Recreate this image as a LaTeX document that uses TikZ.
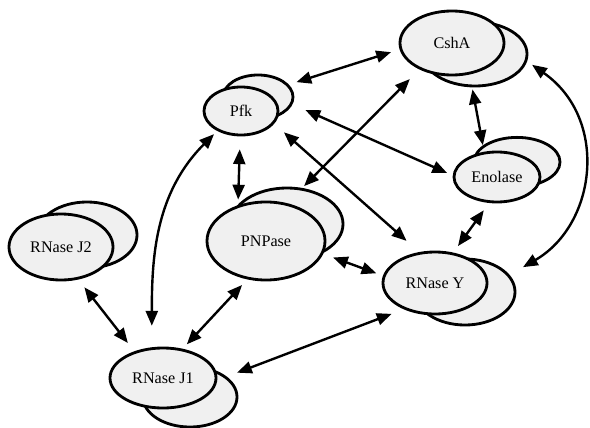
\documentclass[tikz,border=0pt]{standalone}
\usepackage{fontspec}
\setmainfont{Liberation Serif}
\usepackage{tikz}
\usetikzlibrary{shapes.geometric,arrows.meta}

\definecolor{cellgray}{gray}{0.94}

\tikzset{
	ghost/.style={ellipse,draw,line width=2pt,fill=cellgray,inner sep=0pt},
	protein/.style={ghost,font=\fontsize{11.5}{13}\selectfont},
	link/.style={<->,>={Triangle[length=10.5pt,width=8.5pt]},line width=1.7pt},
}

\begin{document}
\begin{tikzpicture}[x=0.025cm,y=-0.025cm]
	
		\useasboundingbox (0,0) rectangle (590,427);
		
		\node[ghost,minimum width=1.75cm,minimum height=1.1cm] (pfkb) at (258,97) {};
		\node[ghost,minimum width=2.6cm,minimum height=1.6cm] (cshab) at (475,54) {};
		\node[ghost,minimum width=2.5cm,minimum height=1.65cm] (rnj2b) at (87,235) {};
		\node[ghost,minimum width=2.8cm,minimum height=1.8cm] (pnpb) at (287,224) {};
		\node[ghost,minimum width=2.5cm,minimum height=1.65cm] (rnyb) at (465,292) {};
		\node[ghost,minimum width=2.35cm,minimum height=1.5cm] (rnj1b) at (190,397) {};
		\node[ghost,minimum width=2.15cm,minimum height=1.23cm] (enob) at (517,162) {};
		
		\node[protein,minimum width=1.85cm,minimum height=1.2cm] (pfk) at (241,111) {Pfk};
		\node[protein,minimum width=2.6cm,minimum height=1.6cm] (csha) at (452,43) {CshA};
		\node[protein,minimum width=2.6cm,minimum height=1.65cm] (rnj2) at (61,247) {RNase J2};
		\node[protein,minimum width=2.95cm,minimum height=1.95cm] (pnp) at (266,241) {PNPase};
		\node[protein,minimum width=2.6cm,minimum height=1.55cm] (rny) at (435,283) {RNase Y};
		\node[protein,minimum width=2.65cm,minimum height=1.5cm] (rnj1) at (163,378) {RNase J1};
		\node[protein,minimum width=2.15cm,minimum height=1.25cm] (eno) at (497,177) {Enolase};
		
		\path[link] (pfkb.22) edge[shorten <=5.7pt,shorten >=6.4pt] (csha.187);
		\path[link] (pfkb.-12) edge[shorten <=10pt,shorten >=4.3pt] (eno.178);
		\path[link] (pfk.-21) edge[shorten <=9.2pt,shorten >=12pt] (rny.117);
		\path[link] (csha.219) edge[shorten <=9.6pt,shorten >=1.8pt] (pnpb.67);
		\path[link] (pfk.268) edge[shorten <=9.2pt,shorten >=4pt] (pnp.128);
		\path[link] (rnj1.110) edge[out=90,in=225,shorten <=15.3pt,shorten >=3.2pt] (pfk.220);
		\path[link] (pnp.244) edge[shorten <=5.4pt,shorten >=4.3pt] (rnj1.56);
		\path[link] (rnj2.-62) edge[shorten <=7pt,shorten >=7.5pt] (rnj1.137);
		\path[link] (rnj1b.29) edge[shorten <=7.8pt,shorten >=9.2pt] (rny.220);
		\path[link] (pnpb.-40) edge[shorten <=8.2pt,shorten >=5pt] (rny.172);
		\path[link] (cshab.265) edge[shorten <=1.5pt,shorten >=4.8pt] (eno.117);
		\path[link] (eno.253) edge[shorten <=6.4pt,shorten >=5.7pt] (rny.59);
		\path[link] (cshab.-8) edge[out=-35,in=30,looseness=1.2,shorten <=4.3pt,shorten >=11pt] (rnyb.21);
	\end{tikzpicture}
\end{document}
